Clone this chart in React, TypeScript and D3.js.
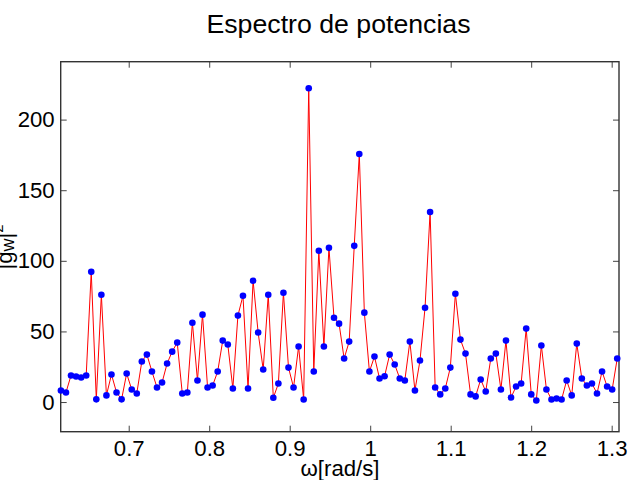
import React, { useEffect, useRef } from "react";
import * as d3 from "d3";

// Frequencies (rad/s) of the plotted samples
const omega = [
  0.61575, 0.62204, 0.62832, 0.6346, 0.64088, 0.64717, 0.65345, 0.65973, 0.66602, 0.6723,
  0.67858, 0.68487, 0.69115, 0.69743, 0.70372, 0.71, 0.71628, 0.72257, 0.72885, 0.73513,
  0.74142, 0.7477, 0.75398, 0.76027, 0.76655, 0.77283, 0.77911, 0.7854, 0.79168, 0.79796,
  0.80425, 0.81053, 0.81681, 0.8231, 0.82938, 0.83566, 0.84195, 0.84823, 0.85451, 0.8608,
  0.86708, 0.87336, 0.87965, 0.88593, 0.89221, 0.8985, 0.90478, 0.91106, 0.91735, 0.92363,
  0.92991, 0.93619, 0.94248, 0.94876, 0.95504, 0.96133, 0.96761, 0.97389, 0.98018, 0.98646,
  0.99274, 0.99903, 1.00531, 1.01159, 1.01788, 1.02416, 1.03044, 1.03673, 1.04301, 1.04929,
  1.05558, 1.06186, 1.06814, 1.07442, 1.08071, 1.08699, 1.09327, 1.09956, 1.10584, 1.11212,
  1.11841, 1.12469, 1.13097, 1.13726, 1.14354, 1.14982, 1.15611, 1.16239, 1.16867, 1.17496,
  1.18124, 1.18752, 1.19381, 1.20009, 1.20637, 1.21265, 1.21894, 1.22522, 1.2315, 1.23779,
  1.24407, 1.25035, 1.25664, 1.26292, 1.2692, 1.27549, 1.28177, 1.28805, 1.29434, 1.30062,
  1.3069,
];

// |g_w|^2
const power = [
  8.2, 6.8, 18.8, 18.1, 17.4, 18.8, 92.2, 1.9, 76.0, 4.7,
  19.5, 6.8, 1.9, 20.2, 8.9, 6.1, 28.7, 33.6, 21.6, 10.3,
  13.8, 27.3, 35.7, 42.1, 6.1, 6.8, 56.2, 15.3, 61.9, 10.3,
  11.7, 21.6, 43.5, 40.7, 9.6, 61.2, 75.3, 9.6, 85.9, 49.2,
  23.0, 76.0, 3.0, 13.1, 77.4, 24.4, 10.3, 39.3, 1.8, 222.2,
  21.6, 107.1, 39.3, 109.2, 59.7, 55.5, 30.8, 42.8, 110.6, 175.6,
  63.3, 21.6, 32.2, 16.7, 18.3, 33.6, 26.6, 16.7, 15.3, 42.8,
  8.2, 29.4, 66.8, 134.6, 10.3, 5.4, 9.6, 24.4, 76.7, 44.2,
  34.3, 5.4, 4.0, 16.0, 7.5, 30.8, 34.3, 8.9, 43.5, 3.2,
  11.0, 13.1, 52.0, 5.4, 1.1, 40.0, 8.9, 1.8, 2.5, 1.8,
  15.3, 4.7, 41.4, 16.7, 11.7, 13.1, 6.1, 21.6, 11.0, 8.9,
  30.8,
];

const xTicks = [0.7, 0.8, 0.9, 1.0, 1.1, 1.2, 1.3];
const yTicks = [0, 50, 100, 150, 200];

const FONT = "'Liberation Sans', Arial, sans-serif";

export default function App() {
  const svgRef = useRef(null);

  useEffect(() => {
    const W = 640;
    const H = 480;
    const margin = { top: 61.7, right: 21, bottom: 48.3, left: 60.7 };

    const svg = d3.select(svgRef.current);
    svg.selectAll("*").remove();

    const x = d3.scaleLinear()
      .domain([0.6155, 1.3091])
      .range([margin.left, W - margin.right]);

    const y = d3.scaleLinear()
      .domain([-21, 241])
      .range([H - margin.bottom, margin.top]);

    const fmt = (d) => String(+(+d).toFixed(1));

    // bottom axis with labels, ticks pointing inward
    const gx = svg.append("g")
      .attr("transform", `translate(0,${H - margin.bottom})`)
      .call(d3.axisBottom(x).tickValues(xTicks).tickFormat(fmt).tickSize(-6).tickPadding(9));

    // top axis, ticks only
    const gxt = svg.append("g")
      .attr("transform", `translate(0,${margin.top})`)
      .call(d3.axisTop(x).tickValues(xTicks).tickFormat(() => "").tickSize(-6));

    // left axis with labels
    const gy = svg.append("g")
      .attr("transform", `translate(${margin.left},0)`)
      .call(d3.axisLeft(y).tickValues(yTicks).tickSize(-6).tickPadding(6));

    // right axis, ticks only
    const gyr = svg.append("g")
      .attr("transform", `translate(${W - margin.right},0)`)
      .call(d3.axisRight(y).tickValues(yTicks).tickFormat(() => "").tickSize(-6));

    [gx, gxt, gy, gyr].forEach((g) => {
      g.select(".domain").remove();
      g.selectAll(".tick line").attr("stroke", "#444").attr("stroke-width", 1);
      g.selectAll("text")
        .attr("fill", "#000")
        .style("font-family", FONT)
        .style("font-size", "22.2px");
    });

    // axes frame
    svg.append("rect")
      .attr("x", margin.left)
      .attr("y", margin.top)
      .attr("width", W - margin.left - margin.right)
      .attr("height", H - margin.top - margin.bottom)
      .attr("fill", "none")
      .attr("stroke", "#333")
      .attr("stroke-width", 1.4);

    const pts = omega.map((w, i) => [w, power[i]]);

    // red connecting line
    svg.append("path")
      .datum(pts)
      .attr("d", d3.line().x((d) => x(d[0])).y((d) => y(d[1])))
      .attr("fill", "none")
      .attr("stroke", "#ff0000")
      .attr("stroke-width", 1);

    // blue markers
    svg.append("g")
      .selectAll("circle")
      .data(pts)
      .join("circle")
      .attr("cx", (d) => x(d[0]))
      .attr("cy", (d) => y(d[1]))
      .attr("r", 3.3)
      .attr("fill", "#0000ff");

    // title
    svg.append("text")
      .attr("x", 338.5)
      .attr("y", 33)
      .attr("text-anchor", "middle")
      .style("font-family", FONT)
      .style("font-size", "26.7px")
      .text("Espectro de potencias");

    // x label
    svg.append("text")
      .attr("x", 340)
      .attr("y", 476)
      .attr("text-anchor", "middle")
      .style("font-family", FONT)
      .style("font-size", "22.2px")
      .text("ω[rad/s]");

    // y label |g_w|^2, rotated
    const yl = svg.append("text")
      .attr("transform", "translate(12.3,247) rotate(-90)")
      .attr("text-anchor", "middle")
      .style("font-family", FONT)
      .style("font-size", "22.2px");
    yl.append("tspan").text("|g");
    yl.append("tspan").attr("dy", 2).style("font-size", "18px").text("w");
    yl.append("tspan").attr("dy", -2).text("|");
    yl.append("tspan").attr("dy", -9).style("font-size", "15px").text("2");

    return () => {
      d3.select(svgRef.current).selectAll("*").remove();
    };
  }, []);

  return (
    <div>
      <svg
        ref={svgRef}
        width={640}
        height={480}
        style={{ position: "absolute", left: 0, top: 0, background: "#fff" }}
      ></svg>
    </div>
  );
}
